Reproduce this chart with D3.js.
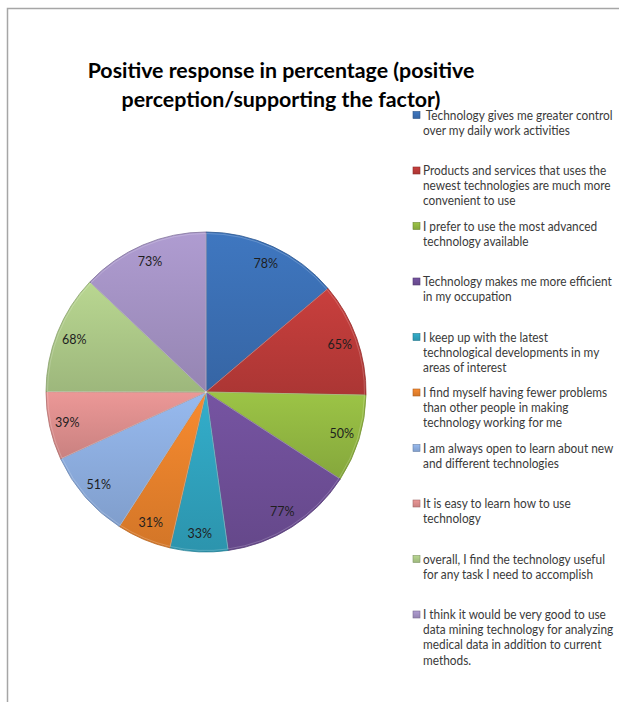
<!DOCTYPE html>
<html>
<head>
<meta charset="utf-8">
<script src="https://cdn.jsdelivr.net/npm/d3@7"></script>
<style>
  html, body { margin: 0; padding: 0; background: #fff; }
  svg { display: block; }
</style>
</head>
<body>
<svg id="chart" width="619" height="702"></svg>
<script>
// ---- data ----
const titleLines = ["Positive response in percentage (positive", "perception/supporting the factor)"];
const categories = [
  [" Technology gives me greater control", "over my daily work activities"],
  ["Products and services that uses the", "newest technologies are much more", "convenient to use"],
  ["I prefer to use the most advanced", "technology available"],
  ["Technology makes me more efficient", "in my occupation"],
  ["I keep up with the latest", "technological developments in my", "areas of interest"],
  ["I find myself having fewer problems", "than other people in making", "technology working for me"],
  ["I am always open to learn about new", "and different technologies"],
  ["It is easy to learn how to use", "technology"],
  ["overall, I find the technology useful", "for any task I need to accomplish"],
  ["I think it would be very good to use", "data mining technology for analyzing", "medical data in addition to current", "methods."]
];
const values = [78, 65, 50, 77, 33, 31, 51, 39, 68, 73];
const colors = ["#3a6db0", "#b83a38", "#8fb340", "#6c4d94", "#2f9fba", "#e37f2b", "#8aaadb", "#d88b8a", "#a9c585", "#a08fbf"];

// ---- layout ----
const svg = d3.select("#chart");
const fontFam = "Lato, 'Open Sans', sans-serif";

// frame
svg.append("path")
  .attr("d", "M7.5,702 V8.5 H619")
  .attr("fill", "none")
  .attr("stroke", "#a6a6a6")
  .attr("stroke-width", 1.5);

// title (slightly condensed to mimic Calibri proportions)
const title = svg.append("g");
const t1 = title.append("text")
  .attr("x", 0).attr("y", 0).attr("dy", "0.35em")
  .attr("text-anchor", "middle")
  .attr("font-family", fontFam).attr("font-weight", "bold")
  .attr("font-size", 21).attr("fill", "#000")
  .text(titleLines[0]);
const titleScale = 387 / t1.node().getComputedTextLength();
t1.attr("transform", `translate(281,71) scale(${titleScale},1)`);
title.append("text")
  .attr("x", 0).attr("y", 0).attr("dy", "0.35em")
  .attr("text-anchor", "middle")
  .attr("font-family", fontFam).attr("font-weight", "bold")
  .attr("font-size", 21).attr("fill", "#000")
  .attr("transform", `translate(281,100) scale(${titleScale},1)`)
  .text(titleLines[1]);

// pie
const cx = 206, cy = 392, R = 160;
const defs = svg.append("defs");
colors.forEach((c, i) => {
  const g = defs.append("linearGradient")
    .attr("id", "grad" + i)
    .attr("x1", 0).attr("y1", 0).attr("x2", 0).attr("y2", 1);
  g.append("stop").attr("offset", "0%").attr("stop-color", d3.color(c).brighter(0.25));
  g.append("stop").attr("offset", "100%").attr("stop-color", d3.color(c).darker(0.2));
});

const pie = d3.pie().sort(null).value(d => d)(values);
const arc = d3.arc().innerRadius(0).outerRadius(R);
const labelArc = d3.arc().innerRadius(142).outerRadius(142);

const pg = svg.append("g").attr("transform", `translate(${cx},${cy})`);
pg.selectAll("path.slice")
  .data(pie)
  .join("path")
  .attr("class", "slice")
  .attr("d", arc)
  .attr("fill", (d, i) => `url(#grad${i})`)
  .attr("stroke", (d, i) => d3.color(colors[i]).darker(0.6))
  .attr("stroke-width", 0.8)
  .attr("stroke-linejoin", "round");

const arcIn = d3.arc().innerRadius(0).outerRadius(R - 1.5);
pg.selectAll("path.hl")
  .data(pie)
  .join("path")
  .attr("class", "hl")
  .attr("d", arcIn)
  .attr("fill", "none")
  .attr("stroke", "rgba(255,255,255,0.25)")
  .attr("stroke-width", 0.8);

const lblSize = 12.5;
pg.selectAll("text.lbl")
  .data(pie)
  .join("text")
  .attr("class", "lbl")
  .attr("transform", d => `translate(${labelArc.centroid(d)})`)
  .attr("text-anchor", "middle")
  .attr("dy", "0.35em")
  .attr("font-family", fontFam)
  .attr("font-size", lblSize)
  .attr("fill", "#1e1e1e")
  .text(d => d.value + "%");

// legend (condensed slightly to match the reference line widths)
const lg = svg.append("g");
const legSize = 13;
const probe = lg.append("text").attr("font-family", fontFam).attr("font-size", legSize).text(categories[3][0]);
const legScale = 189 / probe.node().getComputedTextLength();
probe.remove();

const y0 = 115, step = 55.5, lh = 15.2;
categories.forEach((lines, i) => {
  const y = y0 + i * step;
  lg.append("rect")
    .attr("x", 413).attr("y", y - 3.5)
    .attr("width", 7).attr("height", 7)
    .attr("fill", `url(#grad${i})`)
    .attr("stroke", d3.color(colors[i]).darker(0.8))
    .attr("stroke-width", 0.6);
  const t = lg.append("text")
    .attr("transform", `translate(423,${y}) scale(${legScale},1)`)
    .attr("font-family", fontFam)
    .attr("font-size", legSize)
    .attr("fill", "#3a3a3a");
  lines.forEach((ln, j) => {
    t.append("tspan")
      .attr("x", 0)
      .attr("y", j * lh)
      .attr("dy", "0.35em")
      .style("white-space", "pre")
      .text(ln);
  });
});
</script>
</body>
</html>
